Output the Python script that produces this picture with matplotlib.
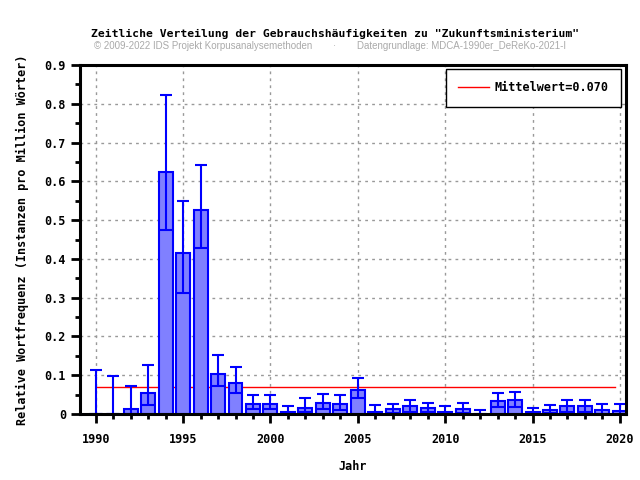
import numpy as np
import matplotlib.pyplot as plt
from matplotlib.ticker import MultipleLocator

years = list(range(1990, 2021))
freq = [0.0, 0.0, 0.013, 0.055, 0.623, 0.414, 0.525, 0.104, 0.081, 0.027,
        0.027, 0.004, 0.016, 0.028, 0.025, 0.061, 0.006, 0.012, 0.020, 0.015,
        0.006, 0.012, 0.0, 0.033, 0.035, 0.004, 0.010, 0.020, 0.020, 0.010,
        0.007]
err_low = [0.0, 0.0, 0.001, 0.024, 0.474, 0.313, 0.427, 0.073, 0.055, 0.013,
           0.013, 0.0, 0.004, 0.012, 0.010, 0.041, 0.0, 0.003, 0.006, 0.004,
           0.0, 0.003, 0.0, 0.019, 0.019, 0.0, 0.002, 0.006, 0.006, 0.001,
           0.0]
err_high = [0.114, 0.099, 0.073, 0.127, 0.823, 0.550, 0.643, 0.153, 0.120, 0.050,
            0.050, 0.021, 0.042, 0.052, 0.050, 0.094, 0.024, 0.027, 0.037, 0.029,
            0.021, 0.029, 0.011, 0.055, 0.058, 0.016, 0.022, 0.037, 0.037, 0.025,
            0.025]
mean_value = 0.070

title = 'Zeitliche Verteilung der Gebrauchshäufigkeiten zu "Zukunftsministerium"'
credit = "© 2009-2022 IDS Projekt Korpusanalysemethoden"
source = "Datengrundlage: MDCA-1990er_DeReKo-2021-I"

mono = "DejaVu Sans Mono"

fig = plt.figure(figsize=(6.4, 4.8), dpi=100)
ax = fig.add_axes([80 / 640, 66 / 480, 546 / 640, 349 / 480])

f = np.array(freq)
yerr = [f - np.array(err_low), np.array(err_high) - f]

ax.plot([1990, 2019.7], [mean_value, mean_value], color="#ff0000",
        linewidth=1.0, zorder=1.5, label="Mittelwert=%.3f" % mean_value)
ax.bar(years, freq, width=0.8, color="#8080ff", edgecolor="#0000ff",
       linewidth=1.5, zorder=2)
ax.errorbar(years, freq, yerr=yerr, fmt="none", ecolor="#0000ff",
            elinewidth=1.5, capsize=4, capthick=1.5, zorder=3)

ax.set_xlim(1989.1, 2020.35)
ax.set_ylim(0, 0.9)
ax.xaxis.set_major_locator(MultipleLocator(5))
ax.xaxis.set_minor_locator(MultipleLocator(1))
ax.yaxis.set_minor_locator(MultipleLocator(0.05))
ax.set_yticks(np.arange(0, 0.95, 0.1))
ax.set_yticklabels(["0"] + ["%.1f" % v for v in np.arange(0.1, 0.95, 0.1)])

ax.grid(True, which="major", color="#999999", linestyle=(0, (2, 3)),
        linewidth=1.0, zorder=0)
ax.set_axisbelow(True)

for s in ax.spines.values():
    s.set_linewidth(2.2)
    s.set_zorder(5)

ax.tick_params(which="major", direction="out", length=6.5, width=2,
               labelsize=8.5)
ax.tick_params(axis="x", which="major", pad=7)
ax.tick_params(which="minor", direction="out", length=3.5, width=2)
for lab in ax.get_xticklabels() + ax.get_yticklabels():
    lab.set_fontfamily(mono)
    lab.set_fontweight("bold")

ax.set_xlabel("Jahr", fontfamily=mono, fontweight="bold", fontsize=8.5,
              labelpad=10)
ax.set_ylabel("Relative Wortfrequenz (Instanzen pro Million Wörter)",
              fontfamily=mono, fontweight="bold", fontsize=8.5, labelpad=11)

leg = ax.legend(loc="upper right", bbox_to_anchor=(541 / 546, 345 / 349),
                borderaxespad=0,
                prop={"family": mono, "weight": "bold", "size": 8.5},
                fancybox=False, framealpha=1, edgecolor="black",
                handlelength=2.6, handletextpad=0.5, borderpad=1.05)
leg.get_frame().set_linewidth(1.0)

fig.text(335 / 640, 1 - 34 / 480, title, fontfamily=mono, fontweight="bold",
         fontsize=8.2, ha="center", va="center")
fig.text(94 / 640, 1 - 46 / 480, credit, fontfamily="Liberation Sans",
         fontsize=7, color="#aaaaaa", ha="left", va="center")
fig.text(334 / 640, 1 - 46 / 480, "·", fontfamily="Liberation Sans",
         fontsize=7, color="#aaaaaa", ha="center", va="center")
fig.text(357 / 640, 1 - 46 / 480, source, fontfamily="Liberation Sans",
         fontsize=7, color="#aaaaaa", ha="left", va="center")

fig.savefig("out.png", dpi=100)
